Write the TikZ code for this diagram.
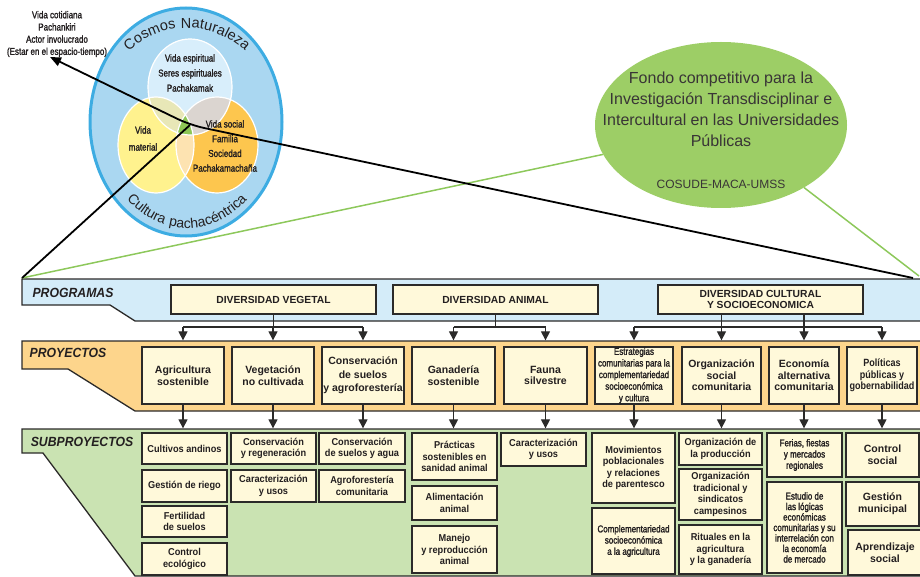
\documentclass[tikz,border=0pt]{standalone}
\usepackage{fontspec}
\setmainfont{Liberation Sans}
\newfontfamily\fA{Liberation Sans}
\newfontfamily\fS{Liberation Sans}[LetterSpace=6]
\newfontfamily\fB{Liberation Sans}[FakeStretch=0.92]
\newfontfamily\fC{Liberation Sans}[FakeStretch=0.86]
\newfontfamily\fN{Liberation Sans}[FakeStretch=0.8, FakeBold=1.6]
\usetikzlibrary{arrows.meta,decorations.text,shapes.geometric}
\definecolor{bd}{HTML}{2B2A29}
\definecolor{boxf}{HTML}{FFF9DA}
\definecolor{bandB}{HTML}{D4ECF9}
\definecolor{bandO}{HTML}{FDD58C}
\definecolor{bandG}{HTML}{CAE3B2}
\definecolor{cosmos}{HTML}{AAD7F1}
\definecolor{cosmosB}{HTML}{3DACE2}
\definecolor{cTop}{HTML}{D8EEFB}
\definecolor{cYel}{HTML}{FFF28E}
\definecolor{cOr}{HTML}{FDC64E}
\definecolor{cTL}{HTML}{E8E7B7}
\definecolor{cTR}{HTML}{DBD5D0}
\definecolor{cLR}{HTML}{FDE3B1}
\definecolor{cMid}{HTML}{8DC655}
\definecolor{fondoc}{HTML}{9DCE66}
\definecolor{gline}{HTML}{8DC85B}
\definecolor{txt}{HTML}{231F20}
\newcommand{\bx}[7]{\node[box,#2,minimum width={(#5)-(#3)},minimum height={(#6)-(#4)}] (#1) at ({((#3)+(#5))/2},{-((#4)+(#6))/2}) {#7};}
\begin{document}
\begin{tikzpicture}[x=1pt,y=1pt,
  box/.style={draw=bd, line width=1.3pt, fill=boxf, inner sep=0pt, align=center, text=txt},
  pgm/.style={font=\fA\bfseries\fontsize{10.3}{11}\selectfont},
  prj/.style={font=\fA\bfseries\fontsize{10.5}{11.6}\selectfont},
  prjc/.style={font=\fC\bfseries\fontsize{10.5}{11.6}\selectfont},
  sub/.style={font=\fB\bfseries\fontsize{10}{11.5}\selectfont},
  subl/.style={font=\fA\bfseries\fontsize{10.5}{12}\selectfont},
  sml/.style={font=\fN\fontsize{10}{11.2}\selectfont},
  band/.style={draw=bd, line width=1.3pt},
  lab/.style={font=\fB\bfseries\itshape\fontsize{13.3}{14}\selectfont, text=txt, inner sep=0pt},
  vt/.style={font=\fN\fontsize{10}{15}\selectfont, align=center, text=txt, inner sep=0pt},
  ln/.style={draw=bd, line width=1.2pt},
  arr/.style={draw=bd, line width=1.2pt, -{Triangle[length=9pt,width=9pt]}},
  blk/.style={draw=black, line width=1.8pt},
  grn/.style={draw=gline, line width=1.5pt}]
\useasboundingbox (0,0) rectangle (920,-577);

% ---------- bands ----------
\path[band, fill=bandB] (22,-279) -- (925,-279) -- (925,-321) -- (135,-321) -- (110,-305) -- (22,-305) -- cycle;
\path[band, fill=bandO] (22,-341) -- (925,-341) -- (925,-411) -- (135,-411) -- (68,-369) -- (22,-369) -- cycle;
\path[band, fill=bandG] (22,-429) -- (925,-429) -- (925,-576) -- (135,-576) -- (43,-453) -- (22,-453) -- cycle;
\node[lab] (lprog) at (73,-293) {PROGRAMAS};
\node[lab] (lproy) at (68,-353) {PROYECTOS};
\node[lab] (lsub) at (82,-442) {SUBPROYECTOS};

% ---------- programs ----------
\bx{pv}{pgm}{171}{285}{376}{314}{DIVERSIDAD VEGETAL}
\bx{pa}{pgm}{393}{285}{598}{314}{DIVERSIDAD ANIMAL}
\bx{pc}{pgm}{658}{285}{863}{314}{DIVERSIDAD CULTURAL\\Y SOCIOECONOMICA}

% ---------- projects ----------
\bx{p1}{prj}{142}{347}{224}{404}{Agricultura\\sostenible}
\bx{p2}{prj}{232}{347}{314}{404}{Vegetación\\no cultivada}
\bx{p3}{prj,font=\fA\bfseries\fontsize{10.5}{13.5}\selectfont}{322}{347}{404}{404}{Conservación\\de suelos\\y agroforestería}
\bx{p4}{prj}{412}{347}{495}{404}{Ganadería\\sostenible}
\bx{p5}{prj}{504}{347}{587}{404}{Fauna\\silvestre}
\bx{p6}{sml,font=\fN\fontsize{10}{11.6}\selectfont}{595}{347}{673}{404}{Estrategias\\comunitarias para la\\complementariedad\\socioeconómica\\y cultura}
\bx{p7}{prj}{682}{347}{761}{404}{Organización\\social\\comunitaria}
\bx{p8}{prj}{769}{347}{839}{404}{Economía\\alternativa\\comunitaria}
\bx{p9}{prjc}{847}{347}{917}{404}{Políticas\\públicas y\\gobernabilidad}

% ---------- subprojects ----------
\bx{s1a}{sub}{142}{433}{227}{464}{Cultivos andinos}
\bx{s1b}{sub}{142}{470}{227}{502}{Gestión de riego}
\bx{s1c}{sub}{142}{506}{227}{537}{Fertilidad\\de suelos}
\bx{s1d}{sub}{142}{543}{227}{575}{Control\\ecológico}
\bx{s2a}{sub}{231}{433}{316}{464}{Conservación\\y regeneración}
\bx{s2b}{sub}{231}{470}{316}{502}{Caracterización\\y usos}
\bx{s3a}{sub}{319}{433}{405}{464}{Conservación\\de suelos y agua}
\bx{s3b}{sub}{319}{470}{405}{502}{Agroforestería\\comunitaria}
\bx{s4a}{sub}{412}{433}{497}{480}{Prácticas\\sostenibles en\\sanidad animal}
\bx{s4b}{sub}{412}{486}{497}{520}{Alimentación\\animal}
\bx{s4c}{sub}{412}{526}{497}{573}{Manejo\\y reproducción\\animal}
\bx{s5a}{sub}{501}{433}{586}{466}{Caracterización\\y usos}
\bx{s6a}{sub}{592}{433}{675}{503}{Movimientos\\poblacionales\\y relaciones\\de parentesco}
\bx{s6b}{sml}{592}{508}{675}{574}{Complementariedad\\socioeconómica\\a la agricultura}
\bx{s7a}{sub}{679}{433}{762}{465}{Organización de\\la producción}
\bx{s7b}{sub}{679}{469}{762}{520}{Organización\\tradicional y\\sindicatos\\campesinos}
\bx{s7c}{sub}{679}{525}{762}{574}{Rituales en la\\agricultura\\y la ganadería}
\bx{s8a}{sml}{767}{433}{842}{477}{Ferias, fiestas\\y mercados\\regionales}
\bx{s8b}{sml,font=\fN\fontsize{10}{10.5}\selectfont}{767}{482}{842}{573}{Estudio de\\las lógicas\\económicas\\comunitarias y su\\interrelación con\\la economía\\de mercado}
\bx{s9a}{subl}{846}{433}{919}{477}{Control\\social}
\bx{s9b}{subl}{846}{482}{919}{526}{Gestión\\municipal}
\bx{s9c}{subl}{848}{530}{922}{575}{Aprendizaje\\social}

% ---------- program -> project connectors ----------
\coordinate (bar) at (0,-327);
\draw[ln] (pv.south) -- (pv.south |- bar);
\draw[ln] (p1.north |- bar) -- (p3.north |- bar);
\foreach \p in {p1,p2,p3} \draw[arr, shorten >=6pt] (\p.north |- bar) -- (\p.north);
\draw[ln] (pa.south) -- (pa.south |- bar);
\draw[ln] (p4.north |- bar) -- (p5.north |- bar);
\foreach \p in {p4,p5} \draw[arr, shorten >=6pt] (\p.north |- bar) -- (\p.north);
\draw[ln] (p6.north |- bar) -- (p9.north |- bar);
\foreach \p in {p6,p9} \draw[arr, shorten >=6pt] (\p.north |- bar) -- (\p.north);
\foreach \p in {p7,p8} \draw[arr, shorten >=6pt] (\p.north |- pc.south) -- (\p.north);

% ---------- project -> subproject connectors ----------
\foreach \p/\s in {p1/s1a,p2/s2a,p3/s3a,p4/s4a,p5/s5a,p6/s6a,p7/s7a,p8/s8a,p9/s9a}
  \draw[arr, shorten >=4pt] (\p.south) -- (\p.south |- \s.north);

% ---------- cosmos circles ----------
\draw[fill=cosmos, draw=cosmosB, line width=3pt] (186,-122) ellipse [x radius=96, y radius=114];
\fill[cTop] (190,-87) ellipse [x radius=42, y radius=48];
\fill[cYel] (156,-145) ellipse [x radius=38, y radius=48];
\fill[cOr] (217,-145) ellipse [x radius=41, y radius=48];
\begin{scope}
  \clip (190,-87) ellipse [x radius=42, y radius=48];
  \fill[cTL] (156,-145) ellipse [x radius=38, y radius=48];
  \fill[cTR] (217,-145) ellipse [x radius=41, y radius=48];
\end{scope}
\begin{scope}
  \clip (156,-145) ellipse [x radius=38, y radius=48];
  \fill[cLR] (217,-145) ellipse [x radius=41, y radius=48];
\end{scope}
\begin{scope}
  \clip (190,-87) ellipse [x radius=42, y radius=48];
  \clip (156,-145) ellipse [x radius=38, y radius=48];
  \fill[cMid] (217,-145) ellipse [x radius=41, y radius=48];
\end{scope}
\draw[white, line width=1.2pt] (190,-87) ellipse [x radius=42, y radius=48];
\draw[white, line width=1.2pt] (156,-145) ellipse [x radius=38, y radius=48];
\draw[white, line width=1.2pt] (217,-145) ellipse [x radius=41, y radius=48];

\path[decorate, decoration={text along path, text align=center, text color=txt,
   text={|\fS\fontsize{14.5}{15}\selectfont|Cosmos Naturaleza}}, shift={(187,-121)}]
   (160:88 and 93) arc[start angle=160, end angle=20, x radius=88, y radius=93];
\path[decorate, decoration={text along path, text align=center, text color=txt,
   text={|\fS\fontsize{14}{15}\selectfont|Cultura pachacéntrica}}, shift={(187,-121)}]
   (205:89 and 107) arc[start angle=205, end angle=335, x radius=89, y radius=107];

\node[vt] (vesp) at (190,-73) {Vida espiritual\\Seres espirituales\\Pachakamak};
\node[vt, font=\fN\fontsize{10}{17}\selectfont] (vmat) at (143,-138.5) {Vida\\material};
\node[vt, font=\fN\fontsize{10}{14.7}\selectfont] (vsoc) at (225,-146) {Vida social\\Familia\\Sociedad\\Pachakamachaña};
\node[vt, font=\fN\fontsize{10}{12.2}\selectfont] (vcot) at (57,-34) {Vida cotidiana\\Pachankiri\\Actor involucrado\\(Estar en el espacio-tiempo)};

% ---------- fondo ellipse ----------
\node[ellipse, fill=fondoc, minimum width=252, minimum height=166, inner sep=0pt] (fondo) at (721,-125) {};
\node[align=center, text=txt!90, font=\fA\fontsize{16}{21}\selectfont, inner sep=0pt] (ftxt) at (721,-109) {Fondo competitivo para la\\Investigación Transdisciplinar e\\Intercultural en las Universidades\\Públicas};
\node[text=txt!90, font=\fA\fontsize{12}{12}\selectfont, inner sep=0pt] (cosude) at (721,-184) {COSUDE-MACA-UMSS};

% ---------- connecting lines ----------
\coordinate (vc) at (190,-125);
\coordinate (lc) at (22,-278);
\coordinate (rc) at (913,-278);
\coordinate (rg) at (919,-276);
\coordinate (tip) at (50,-57);
\draw[grn] (lc) -- (fondo.194);
\draw[grn] (fondo.323) -- (rg);
\draw[blk] (lc) -- (vc);
\draw[blk, rounded corners=14pt, -{Triangle[length=11pt,width=9pt]}] (rc) -- (vc) -- (tip);
\end{tikzpicture}
\end{document}
